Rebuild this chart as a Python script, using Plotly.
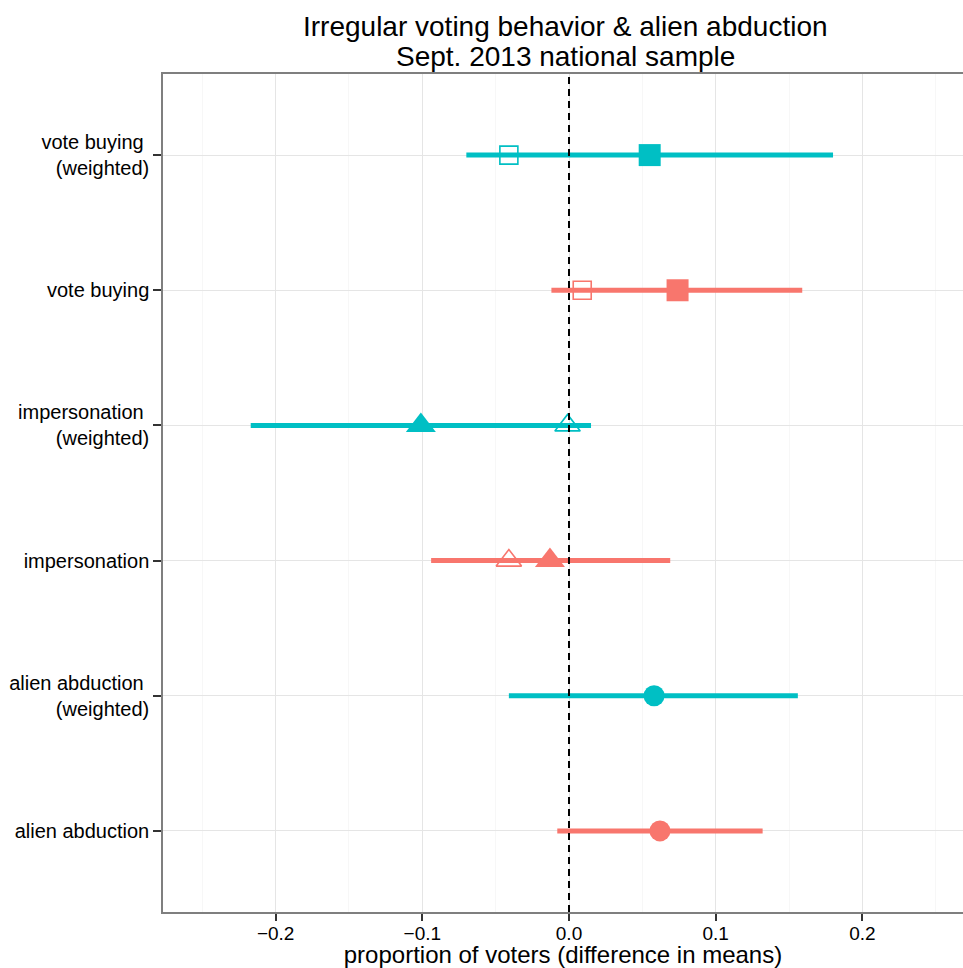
import plotly.graph_objects as go

# ---- data ----
categories = ["alien abduction", "alien abduction (weighted)",
              "impersonation", "impersonation (weighted)",
              "vote buying", "vote buying (weighted)"]
tick_labels = ["alien abduction", "alien abduction\u00a0<br>(weighted)",
               "impersonation", "impersonation\u00a0<br>(weighted)",
               "vote buying", "vote buying\u00a0<br>(weighted)"]
weighted = [False, True, False, True, False, True]
estimate = [0.062, 0.058, -0.013, -0.101, 0.074, 0.055]
ci_low = [-0.008, -0.041, -0.094, -0.217, -0.012, -0.070]
ci_high = [0.132, 0.156, 0.069, 0.015, 0.159, 0.180]
alt_estimate = [None, None, -0.041, -0.001, 0.009, -0.041]
shapes = ["circle", "circle", "triangle-up", "triangle-up", "square", "square"]
x_ticks = [-0.2, -0.1, 0.0, 0.1, 0.2]

RED = "#F8766D"
CYAN = "#00BFC4"
sizes = {"circle": 21, "triangle-up": 26, "square": 22}
open_sizes = {"triangle-up": 22, "square": 18}

fig = go.Figure()

# interval lines
for flag, col in [(False, RED), (True, CYAN)]:
    xs, ys = [], []
    for c, w, lo, hi in zip(categories, weighted, ci_low, ci_high):
        if w == flag:
            xs += [lo, hi, None]
            ys += [c, c, None]
    fig.add_trace(go.Scatter(x=xs, y=ys, mode="lines",
                             line=dict(color=col, width=5),
                             hoverinfo="skip", showlegend=False))

# filled point estimates
for c, w, e, s in zip(categories, weighted, estimate, shapes):
    col = CYAN if w else RED
    fig.add_trace(go.Scatter(x=[e], y=[c], mode="markers",
                             marker=dict(symbol=s, size=sizes[s], color=col,
                                         line=dict(width=0)),
                             showlegend=False))

# open (alternative) estimates
for c, w, a, s in zip(categories, weighted, alt_estimate, shapes):
    if a is None:
        continue
    col = CYAN if w else RED
    fig.add_trace(go.Scatter(x=[a], y=[c], mode="markers",
                             marker=dict(symbol=s + "-open", size=open_sizes[s],
                                         color=col, line=dict(width=1.6, color=col)),
                             showlegend=False))

fig.add_vline(x=0, line=dict(color="black", width=2, dash="7px,5px"))

W, H = 963, 968
L, R, T, B = 163, 0, 74, 56
ph = H - T - B

def py(p):
    return (H - B - p) / ph

font = "Liberation Sans, Arial, Helvetica, sans-serif"
fig.add_annotation(text="Irregular voting behavior & alien abduction",
                   xref="paper", yref="paper", x=0.503, y=py(27),
                   xanchor="center", yanchor="middle", showarrow=False,
                   font=dict(size=28, color="black", family=font))
fig.add_annotation(text="Sept. 2013 national sample",
                   xref="paper", yref="paper", x=0.503, y=py(56),
                   xanchor="center", yanchor="middle", showarrow=False,
                   font=dict(size=28, color="black", family=font))

fig.update_layout(
    width=W, height=H,
    margin=dict(l=L, r=R, t=T, b=B, pad=0),
    paper_bgcolor="white", plot_bgcolor="white",
    font=dict(family=font, color="black"),
    showlegend=False,
    xaxis=dict(
        range=[-0.2768, 0.2686], tickvals=x_ticks, tickformat=".1f",
        showgrid=True, gridcolor="#E5E5E5", gridwidth=1,
        minor=dict(dtick=0.05, tick0=-0.25, showgrid=True, gridcolor="#F7F7F7", gridwidth=1),
        zeroline=False, showline=True, linecolor="#7F7F7F", linewidth=1.5, mirror=True,
        ticks="outside", ticklen=7, tickwidth=1.5, tickcolor="#333333",
        ticklabelstandoff=-4,
        tickfont=dict(size=19, color="black"),
        title=dict(text="proportion of voters (difference in means)",
                   font=dict(size=24, color="black"), standoff=7),
        automargin=False,
    ),
    yaxis=dict(
        type="category", categoryorder="array", categoryarray=categories,
        range=[-0.6, 5.6], tickvals=categories, ticktext=tick_labels,
        showgrid=True, gridcolor="#E5E5E5", gridwidth=1,
        zeroline=False, showline=True, linecolor="#7F7F7F", linewidth=1.5, mirror=False,
        ticks="outside", ticklen=8, tickwidth=1.5, tickcolor="#333333",
        tickfont=dict(size=20, color="black"),
        automargin=False,
    ),
)

fig.write_html("out.html", config={"displayModeBar": False},
               post_script="document.body.style.margin='0px';document.body.style.overflow='hidden';")
